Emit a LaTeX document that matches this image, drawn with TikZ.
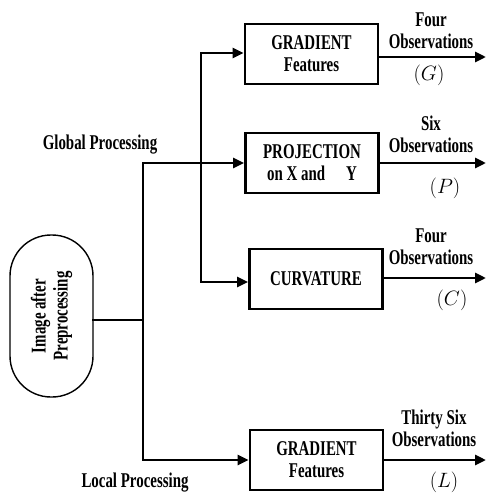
\documentclass[tikz,border=0pt]{standalone}
\usepackage{fontspec}
\setmainfont{Liberation Serif}[FakeStretch=0.71]
\usetikzlibrary{math,arrows.meta}

\begin{document}
\begin{tikzpicture}[x=1pt,y=-1pt,
  line width=2.8pt, line cap=rect,
  every node/.style={font=\fontsize{21}{22}\selectfont\bfseries, align=center},
  box/.style={draw, minimum width=133pt, minimum height=60pt, inner sep=2pt},
  arr/.style={-{Triangle[length=11pt,width=10pt]}}]

\useasboundingbox (0,0) rectangle (487,495);

\tikzmath{
\trunkA = 143;
\trunkB = 201;
\outx = 486;
}

% input
\node[draw, line width=1.4pt, rotate=90, minimum width=162pt, minimum height=83pt,
      rounded corners=41pt, font=\fontsize{21}{22}\selectfont\bfseries] (img) at (51.5,316)
      {Image after\\Preprocessing};

% feature blocks
\node[box] (gradG) at (311.5,54) {GRADIENT\\Features};
\node[box] (proj) at (312,163) {PROJECTION\\on X and\quad Y};
\node[box] (curv) at (316,279) {CURVATURE};
\node[box] (gradL) at (316.5,460) {GRADIENT\\Features};

\node (glob) at (100,145) {Global Processing};
\node (loc) at (135,483) {Local Processing};

% branching
\coordinate (j0) at (\trunkA,320);
\coordinate (jg) at (\trunkA,163);
\coordinate (jl) at (\trunkA,460);
\coordinate (ka) at (\trunkB,53);
\coordinate (kc) at (\trunkB,282);

\draw (img.south |- j0) -- (j0);
\draw[arr] (jg) -- (jl) -- (jl -| gradL.west);
\draw[arr] (jg) -- (jg -| proj.west);
\draw[arr] (ka) -- (kc) -- (kc -| curv.west);
\draw[arr] (ka) -- (ka -| gradG.west);

% outputs
\coordinate (oG) at (\outx,57);
\coordinate (oP) at (\outx,163);
\coordinate (oC) at (\outx,278);
\coordinate (oL) at (\outx,460);

\draw[arr] (gradG.east |- oG) -- (oG);
\draw[arr] (proj.east |- oP) -- (oP);
\draw[arr] (curv.east |- oC) -- (oC);
\draw[arr] (gradL.east |- oL) -- (oL);

\node (nG) at (431,31) {Four\\Observations};
\node (nP) at (431,134) {Six\\Observations};
\node (nC) at (431,247) {Four\\Observations};
\node (nL) at (434,428) {Thirty Six\\Observations};

\node[font=\fontsize{22}{22}\selectfont] (sG) at (429,75) {$(G)$};
\node[font=\fontsize{22}{22}\selectfont] (sP) at (445,188) {$(P)$};
\node[font=\fontsize{22}{22}\selectfont] (sC) at (452,300) {$(C)$};
\node[font=\fontsize{22}{22}\selectfont] (sL) at (444,482) {$(L)$};

\end{tikzpicture}
\end{document}
